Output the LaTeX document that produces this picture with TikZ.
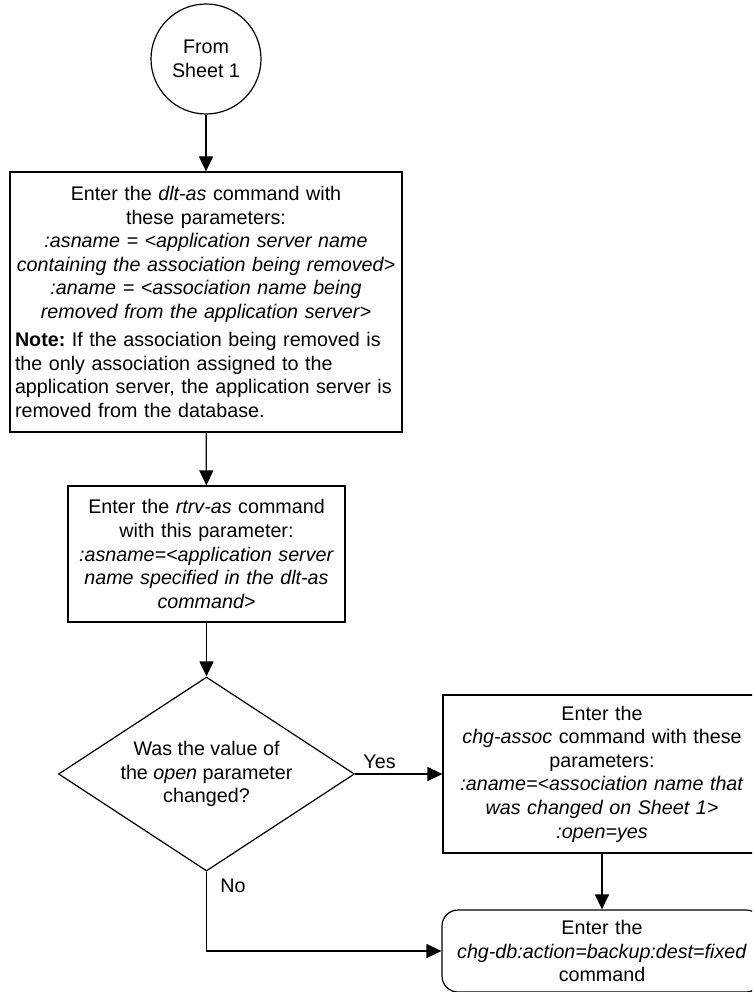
\documentclass[tikz,border=0pt]{standalone}
\usepackage{fontspec}
\setmainfont{Liberation Sans}
\usetikzlibrary{shapes.geometric,arrows.meta}
\frenchspacing
\tikzset{
  every node/.style={font=\fontsize{19.7pt}{23.6pt}\selectfont},
  line/.style={line width=1.2pt},
  arr/.style={line width=1.2pt,-{Triangle[length=15pt,width=14pt]}},
  box/.style={draw,line width=1.2pt,rectangle,inner sep=0pt},
  rbox/.style={draw,line width=1.2pt,rectangle,rounded corners=16pt,inner sep=0pt},
  startc/.style={draw,line width=1.2pt,circle,inner sep=0pt,minimum size=110pt,align=center},
  decision/.style={draw,line width=1.2pt,diamond,inner sep=0pt,shape aspect=1.526,minimum width=296pt,minimum height=194pt,align=center},
  lbl/.style={inner sep=0pt}
}
\begin{document}
\begin{tikzpicture}[x=1pt,y=-1pt]
\useasboundingbox (0,0) rectangle (752,992);
\clip (0,0) rectangle (752,992);
\node[startc] (s) at (206,59) {From\\Sheet 1};
\node[box,inner xsep=5pt,text width=382pt,minimum height=260pt,align=left] (b1) at (206,302)
 {{\centering Enter the \textit{dlt-as} command with\\
  these parameters:\\
  \textit{:asname = <application server name}\\
  \textit{containing the association being removed>}\\
  \textit{:aname = <association name being}\\
  \textit{removed from the application server>}\par}\vspace{4.5pt}%
  \textbf{Note:} If the association being removed is\\
  the only association assigned to the\\
  application server, the application server is\\
  removed from the database.};
\node[box,text width=265pt,minimum width=277pt,minimum height=136pt,align=center] (b2) at (206.5,554)
 {Enter the \textit{rtrv-as} command\\
  with this parameter:\\
  \textit{:asname=<application server}\\
  \textit{name specified in the dlt-as}\\
  \textit{command>}};
\node[decision] (d) at (206.5,774) {Was the value of\\the \textit{open} parameter\\changed?};
\node[box,text width=306pt,minimum width=318pt,minimum height=158pt,align=center] (b3) at (602,774)
 {Enter the\\
  \textit{chg-assoc} command with these\\
  parameters:\\
  \textit{:aname=<association name that}\\
  \textit{was changed on Sheet 1>}\\
  \textit{:open=yes}};
\node[rbox,text width=308pt,minimum width=320pt,minimum height=82pt,align=center] (r) at (602,951)
 {Enter the\\
  \textit{chg-db:action=backup:dest=fixed}\\
  command};
\draw[arr] (s) -- (b1);
\draw[arr] (b1) -- (b2);
\draw[arr] (b2) -- (d);
\draw[arr] (d.east) -- node[lbl,above=5pt,pos=0.28] (yes) {Yes} (b3.west);
\draw[arr] (b3) -- (r);
\draw[arr] (d.south) |- (r.west);
\node[lbl] (no) at (233,886) {No};
\end{tikzpicture}
\end{document}
